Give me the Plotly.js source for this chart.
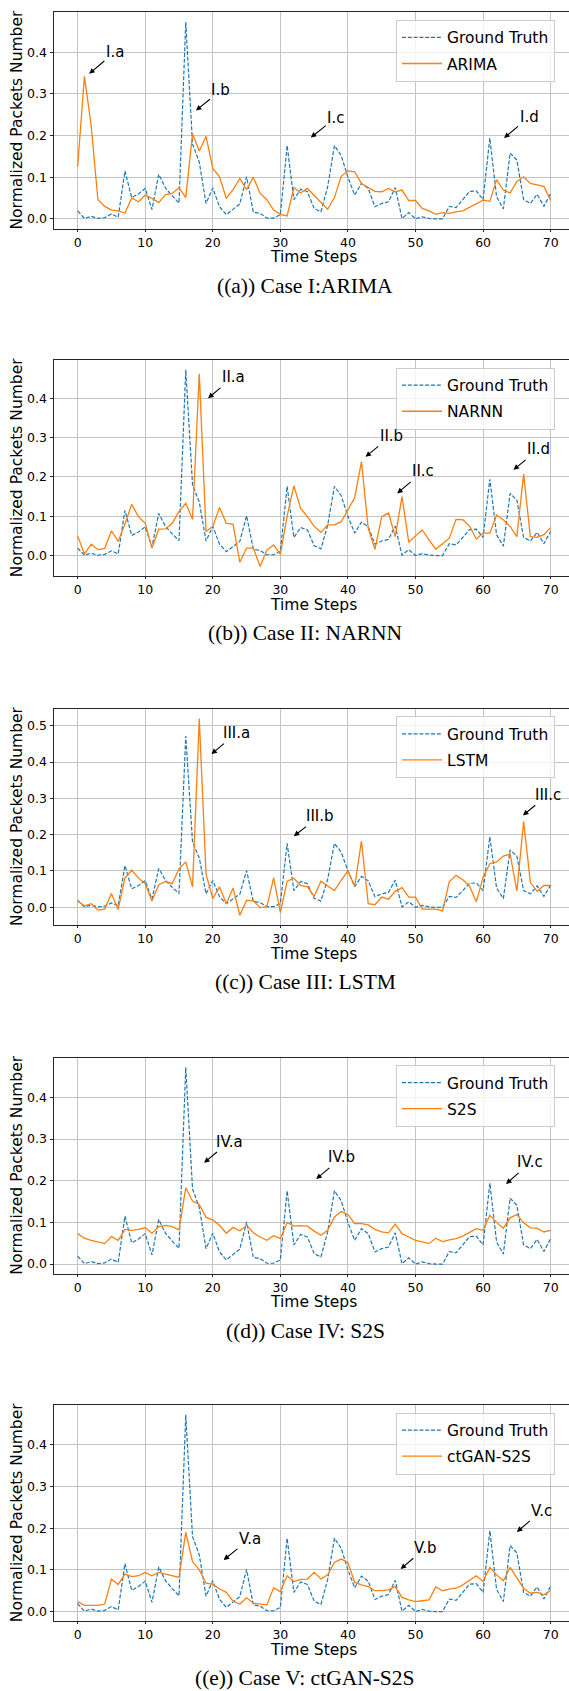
<!DOCTYPE html>
<html><head><meta charset="utf-8">
<script src="https://cdn.plot.ly/plotly-3.0.1.min.js"></script>
<style>html,body{margin:0;padding:0;background:#fff;} #chart{width:569px;height:1691px;}</style>
</head><body><div id="chart"></div>
<script>
const timeSteps = [0,1,2,3,4,5,6,7,8,9,10,11,12,13,14,15,16,17,18,19,20,21,22,23,24,25,26,27,28,29,30,31,32,33,34,35,36,37,38,39,40,41,42,43,44,45,46,47,48,49,50,51,52,53,54,55,56,57,58,59,60,61,62,63,64,65,66,67,68,69,70];

const groundTruth = [0.019,0.001,0.006,0.001,0.003,0.012,0.004,0.115,0.051,0.060,
 0.073,0.022,0.107,0.074,0.055,0.038,0.472,0.180,0.136,0.037,
 0.074,0.029,0.010,0.022,0.036,0.101,0.016,0.013,0.002,0.002,
 0.010,0.176,0.046,0.071,0.065,0.025,0.017,0.077,0.176,0.152,
 0.100,0.057,0.085,0.073,0.029,0.037,0.041,0.075,0.001,0.015,
 0.000,0.005,0.001,0.000,0.000,0.030,0.027,0.046,0.066,0.067,
 0.046,0.194,0.053,0.024,0.158,0.141,0.046,0.037,0.059,0.030,0.061];

const arima = [0.125,0.342,0.224,0.046,0.030,0.021,0.019,0.014,0.050,0.041,
 0.057,0.049,0.039,0.058,0.061,0.075,0.051,0.204,0.163,0.198,
 0.121,0.101,0.049,0.070,0.097,0.070,0.100,0.061,0.046,0.021,
 0.011,0.007,0.075,0.062,0.073,0.057,0.041,0.023,0.051,0.102,
 0.115,0.113,0.085,0.075,0.066,0.065,0.073,0.065,0.069,0.044,
 0.044,0.025,0.019,0.011,0.015,0.013,0.017,0.019,0.027,0.037,
 0.045,0.042,0.094,0.069,0.062,0.090,0.101,0.085,0.081,0.078,0.045];

const narnn = [0.050,0.004,0.029,0.015,0.018,0.063,0.036,0.080,0.130,0.099,
 0.082,0.019,0.067,0.068,0.082,0.112,0.133,0.092,0.462,0.061,
 0.074,0.122,0.082,0.080,-0.017,0.019,0.019,-0.028,0.014,0.027,
 0.003,0.100,0.177,0.120,0.099,0.074,0.059,0.078,0.078,0.086,
 0.116,0.147,0.239,0.069,0.016,0.099,0.108,0.048,0.150,0.034,
 0.050,0.065,0.040,0.016,0.030,0.044,0.092,0.091,0.075,0.042,
 0.057,0.057,0.103,0.091,0.074,0.048,0.207,0.048,0.046,0.053,0.071];

const lstm = [0.017,0.004,0.010,-0.008,-0.005,0.038,-0.006,0.081,0.102,0.081,
 0.065,0.017,0.062,0.071,0.065,0.106,0.125,0.056,0.520,0.091,
 0.024,0.056,0.010,0.053,-0.022,0.019,0.018,-0.001,0.001,0.081,
 -0.015,0.072,0.080,0.060,0.056,0.030,0.072,0.059,0.046,0.074,
 0.100,0.058,0.182,0.010,0.007,0.028,0.022,0.044,0.054,0.028,
 0.028,-0.005,-0.005,-0.005,-0.010,0.070,0.088,0.076,0.058,0.015,
 0.083,0.120,0.125,0.141,0.147,0.045,0.236,0.068,0.044,0.060,0.060];

const s2s = [0.073,0.062,0.057,0.053,0.049,0.066,0.057,0.083,0.081,0.083,
 0.087,0.074,0.090,0.093,0.090,0.082,0.183,0.151,0.143,0.112,
 0.106,0.093,0.074,0.088,0.080,0.093,0.075,0.065,0.057,0.068,
 0.061,0.100,0.091,0.092,0.091,0.079,0.069,0.081,0.113,0.126,
 0.119,0.097,0.097,0.094,0.083,0.077,0.075,0.096,0.073,0.065,
 0.057,0.053,0.049,0.062,0.054,0.058,0.061,0.067,0.077,0.085,
 0.081,0.117,0.100,0.086,0.111,0.119,0.099,0.087,0.086,0.077,0.081];

const ctganS2s = [0.024,0.015,0.015,0.015,0.018,0.078,0.065,0.090,0.084,0.086,
 0.094,0.086,0.094,0.090,0.086,0.082,0.190,0.120,0.100,0.068,
 0.065,0.054,0.046,0.025,0.018,0.033,0.020,0.018,0.016,0.057,
 0.048,0.086,0.072,0.077,0.078,0.094,0.078,0.088,0.118,0.126,
 0.118,0.070,0.064,0.060,0.050,0.050,0.052,0.060,0.034,0.028,
 0.024,0.026,0.028,0.059,0.050,0.054,0.056,0.064,0.075,0.086,
 0.072,0.106,0.088,0.074,0.106,0.082,0.056,0.044,0.046,0.040,0.050];

const modelNames = ['ARIMA', 'NARNN', 'LSTM', 'S2S', 'ctGAN-S2S'];
const modelSeries = [arima, narnn, lstm, s2s, ctganS2s];
const captions = ['((a)) Case I:ARIMA', '((b)) Case II: NARNN', '((c)) Case III: LSTM', '((d)) Case IV: S2S', '((e)) Case V: ctGAN-S2S'];
const xTickVals = [0, 10, 20, 30, 40, 50, 60, 70];
const xTitle = 'Time Steps';
const yTitle = 'Normalized Packets Number';

// callout labels: [text, pointX, pointY, textX, textY]
const callouts = [
  [['I.a', 1.7, 0.348, 5.5, 0.40], ['I.b', 17.5, 0.26, 21.2, 0.308], ['I.c', 34.5, 0.195, 38.2, 0.243], ['I.d', 63.1, 0.194, 66.8, 0.244]],
  [['II.a', 19.3, 0.40, 23.0, 0.453], ['II.b', 42.6, 0.251, 46.4, 0.304], ['II.c', 47.3, 0.158, 51.1, 0.214], ['II.d', 64.5, 0.218, 68.2, 0.27]],
  [['III.a', 19.8, 0.422, 23.5, 0.48], ['III.b', 32.0, 0.196, 35.8, 0.251], ['III.c', 65.9, 0.253, 69.6, 0.31]],
  [['IV.a', 18.7, 0.243, 22.5, 0.294], ['IV.b', 35.3, 0.204, 39.1, 0.256], ['IV.c', 63.4, 0.192, 67.0, 0.244]],
  [['V.a', 21.6, 0.124, 25.5, 0.174], ['V.b', 47.8, 0.102, 51.5, 0.153], ['V.c', 65.0, 0.191, 68.7, 0.242]]
];

// ---------- layout geometry ----------
const W = 569, H = 1691;
const plotTops = [12.3, 360, 708.7, 1057.5, 1405];
const plotH = 216.4;
const frameLeft = 54.0, frameFullW = 520.3;   // matplotlib frame (right edge falls outside the page)
const xMin = -3.5, xMax = 73.5;
const pxPerUnit = frameFullW / (xMax - xMin);
const xVisMax = xMin + (W - frameLeft) / pxPerUnit;

const SANS = 'DejaVu Sans, sans-serif';
const SERIF = 'Liberation Serif, Times New Roman, serif';
const BLUE = '#1f77b4', ORANGE = '#ff7f0e';

const traces = [];
const layout = {
  width: W, height: H,
  margin: {l: 0, r: 0, t: 0, b: 0},
  paper_bgcolor: '#fff', plot_bgcolor: '#fff',
  showlegend: true,
  annotations: [],
  font: {family: SANS, color: '#000'}
};

for (let k = 0; k < 5; k++) {
  const n = k + 1;
  const xa = n === 1 ? 'x' : 'x' + n;
  const ya = n === 1 ? 'y' : 'y' + n;
  const lg = n === 1 ? 'legend' : 'legend' + n;
  const top = plotTops[k], bottom = top + plotH;

  traces.push({
    x: timeSteps, y: groundTruth, type: 'scatter', mode: 'lines', name: 'Ground Truth',
    xaxis: xa, yaxis: ya, legend: lg, legendgroup: 'gt' + n,
    line: {color: BLUE, width: 1.2, dash: '4px,1.8px'}
  });
  traces.push({
    x: timeSteps, y: modelSeries[k], type: 'scatter', mode: 'lines', name: modelNames[k],
    xaxis: xa, yaxis: ya, legend: lg, legendgroup: 'm' + n,
    line: {color: ORANGE, width: 1.3}
  });

  const all = groundTruth.concat(modelSeries[k]);
  const lo = Math.min(...all), hi = Math.max(...all);
  const pad = (hi - lo) * 0.05;

  const axCommon = {
    showgrid: true, gridcolor: '#c4c4c4', gridwidth: 1,
    showline: true, linecolor: '#262626', linewidth: 1,
    ticks: 'outside', ticklen: 2, tickwidth: 1, tickcolor: '#262626',
    zeroline: false, tickfont: {family: SANS, size: 12.5, color: '#000'}
  };
  layout['xaxis' + (n === 1 ? '' : n)] = Object.assign({}, axCommon, {
    anchor: ya, domain: [frameLeft / W, 1], range: [xMin, xVisMax],
    tickmode: 'array', tickvals: xTickVals, mirror: true
  });
  layout['yaxis' + (n === 1 ? '' : n)] = Object.assign({}, axCommon, {
    anchor: xa, domain: [1 - bottom / H, 1 - top / H], range: [lo - pad, hi + pad],
    tick0: 0, dtick: 0.1, tickformat: '.1f', mirror: false, ticklen: 3.5
  });
  layout[lg] = {
    x: 396 / W, y: 1 - (top + 7.5) / H, xanchor: 'left', yanchor: 'top',
    bgcolor: 'rgba(255,255,255,0.8)', bordercolor: '#cccccc', borderwidth: 1,
    itemwidth: 40, tracegroupgap: 3,
    font: {family: SANS, size: 15.5, color: '#000'}
  };

  layout.annotations.push({
    xref: 'paper', yref: 'paper', x: 313 / W, y: 1 - (bottom + 28.5) / H,
    xanchor: 'center', yanchor: 'middle', showarrow: false, text: xTitle,
    font: {family: SANS, size: 15.5, color: '#000'}
  });
  layout.annotations.push({
    xref: 'paper', yref: 'paper', x: 17 / W, y: 1 - (top + plotH / 2) / H,
    xanchor: 'center', yanchor: 'middle', showarrow: false, text: yTitle, textangle: -90,
    font: {family: SANS, size: 15.5, color: '#000'}
  });
  layout.annotations.push({
    xref: 'paper', yref: 'paper', x: 305 / W, y: 1 - (bottom + 57) / H,
    xanchor: 'center', yanchor: 'middle', showarrow: false, text: captions[k],
    font: {family: SERIF, size: 21.5, color: '#000'}
  });
  callouts[k].forEach(c => {
    layout.annotations.push({
      xref: xa, yref: ya, axref: xa, ayref: ya,
      x: c[1], y: c[2], ax: c[3], ay: c[4], text: c[0],
      showarrow: true, arrowhead: 2, arrowsize: 1, arrowwidth: 1.1, arrowcolor: '#000',
      standoff: 0, startstandoff: 0,
      font: {family: SANS, size: 15, color: '#000'}
    });
  });
}

Plotly.newPlot('chart', traces, layout, {staticPlot: true, displayModeBar: false});
</script>
</body></html>
